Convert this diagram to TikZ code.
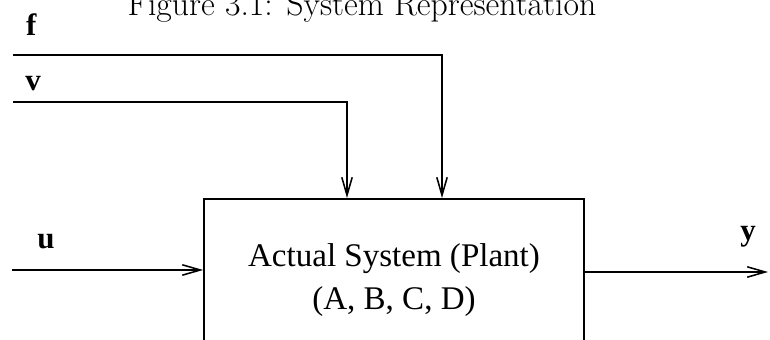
\documentclass[tikz,border=0pt]{standalone}
\usepackage{fontspec}
\newfontfamily\timesfont{Liberation Serif}
\usetikzlibrary{arrows.meta,positioning}

\begin{document}
\begin{tikzpicture}[
  font=\timesfont,
  plant/.style={draw, line width=1.3pt, minimum width=95mm, minimum height=40.5mm, align=center, font=\timesfont\fontsize{23.5}{31}\selectfont},
  sig/.style={anchor=base, font=\timesfont\bfseries\fontsize{22}{26}\selectfont},
  arrow/.style={-{Straight Barb[length=4.5mm,width=2.6mm]}, line width=1.1pt}
]
\useasboundingbox (0,0) rectangle (19.25,8.5);
\clip (0,0) rectangle (19.25,8.5);

\node[anchor=base, font=\rmfamily\fontsize{24}{28}\selectfont] (title) at (9.05,8.1)
  {Figure 3.1: System Representation};

\node[plant] (plant) at (9.85,1.5)
  {Actual System (Plant)\\(A, B, C, D)};

\node[sig] (f) at (0.78,7.6) {f};
\node[sig] (v) at (0.83,6.225) {v};
\node[sig] (u) at (1.15,2.275) {u};
\node[sig] (y) at (18.7,2.475) {y};

\coordinate (f in) at (0.325,7.125);
\coordinate (v in) at (0.325,5.95);
\coordinate (u in) at (0.3,1.75);
\coordinate (y out) at (19.2,1.7);

\draw[arrow] (f in) -| ([xshift=12mm]plant.north);
\draw[arrow] (v in) -| ([xshift=-11.75mm]plant.north);
\draw[arrow] (u in) -- (u in -| plant.west);
\draw[arrow] (plant.east |- y out) -- (y out);

\end{tikzpicture}
\end{document}
